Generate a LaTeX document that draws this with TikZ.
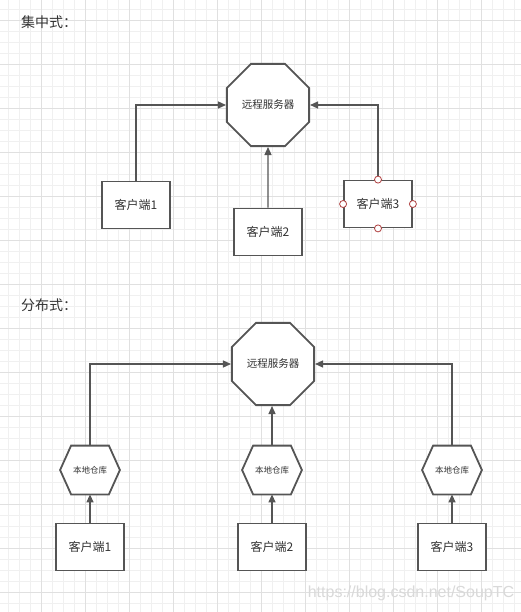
\documentclass[tikz,border=0pt]{standalone}
\usepackage{fontspec}
\setmainfont{Noto Sans CJK SC}
\newfontfamily\wmfont{Liberation Sans}
\usetikzlibrary{shapes.geometric,arrows.meta,backgrounds}
\definecolor{gridminor}{HTML}{F0F0F0}
\definecolor{gridmajor}{HTML}{E0E0E0}
\definecolor{ink}{HTML}{555555}
\definecolor{txt}{HTML}{333333}
\definecolor{port}{HTML}{B04040}
\begin{document}
\begin{tikzpicture}[x=1pt,y=-1pt,
 client/.style={draw=ink,line width=1.8pt,fill=white,minimum width=68pt,minimum height=47pt,inner sep=0pt,text=txt,font=\fontsize{12}{14}\selectfont},
 server/.style={regular polygon,regular polygon sides=8,draw=ink,line width=1.8pt,fill=white,minimum size=89pt,inner sep=0pt,text=txt,font=\fontsize{10.5}{12}\selectfont},
 repo/.style={minimum width=58pt,minimum height=47pt,inner sep=0pt,outer sep=0.9pt,text=txt,font=\fontsize{8.5}{10}\selectfont},
 hexline/.style={draw=ink,line width=1.8pt,fill=white,line join=miter},
 link/.style={draw=ink,line width=1.3pt,-{Triangle[length=8pt,width=7pt]}},
 portc/.style={circle,draw=port,fill=white,line width=0.8pt,minimum size=7pt,inner sep=0pt},
 title/.style={text=txt,font=\fontsize{14}{16}\selectfont,anchor=west,inner sep=0pt}
]
\useasboundingbox (0,0) rectangle (521,612);

% nodes
\node[title] (t1) at (21,22) {集中式：};
\node[server] (s1) at (268,105) {远程服务器};
\node[client] (c1) at (136,205) {客户端1};
\node[client] (c2) at (268,232) {客户端2};
\node[client] (c3) at (378,204) {客户端3};

\node[title] (t2) at (21,305) {分布式：};
\node[server] (s2) at (273,364) {远程服务器};
\node[repo] (h1) at (90,470) {本地仓库};
\node[repo] (h2) at (272,470) {本地仓库};
\node[repo] (h3) at (452,470) {本地仓库};
\node[client] (d1) at (90,547) {客户端1};
\node[client] (d2) at (272,547) {客户端2};
\node[client] (d3) at (452,547) {客户端3};

\begin{scope}[on background layer]
  \fill[white] (0,0) rectangle (521,612);
  \foreach \k in {0,...,46} {\draw[gridminor,line width=1pt] ({8.3+11*\k},0) -- ({8.3+11*\k},612);}
  \foreach \k in {0,...,54} {\draw[gridminor,line width=1pt] (0,{9.3+11*\k}) -- (521,{9.3+11*\k});}
  \foreach \k in {0,...,10} {\draw[gridmajor,line width=1pt] ({41.3+44*\k},0) -- ({41.3+44*\k},612);}
  \foreach \k in {0,...,13} {\draw[gridmajor,line width=1pt] (0,{20.3+44*\k}) -- (521,{20.3+44*\k});}
  \foreach \h in {h1,h2,h3} {
    \path[hexline] (\h.west) -- ([xshift=11pt]\h.north west) -- ([xshift=-11pt]\h.north east)
      -- (\h.east) -- ([xshift=-11pt]\h.south east) -- ([xshift=11pt]\h.south west) -- cycle;
  }
\end{scope}

% connectors
\draw[link] (c1.north) |- (s1.west);
\draw[link] (c2.north) -- (s1.south);
\draw[link] (c3.north) |- (s1.east);
\draw[link] (h1.north) |- (s2.west);
\draw[link] (h2.north) -- (h2.north |- s2.south);
\draw[link] (h3.north) |- (s2.east);
\draw[link] (d1.north) -- (h1.south);
\draw[link] (d2.north) -- (h2.south);
\draw[link] (d3.north) -- (h3.south);

% connection points on client 3
\node[portc] (p1) at (c3.north) {};
\node[portc] (p2) at (c3.south) {};
\node[portc] (p3) at (c3.east) {};
\node[portc] (p4) at (c3.west) {};

\node[font=\wmfont\fontsize{16}{18}\selectfont,text=gray!30] (wm) at (411,593) {https://blog.csdn.net/SoupTC};
\end{tikzpicture}
\end{document}
